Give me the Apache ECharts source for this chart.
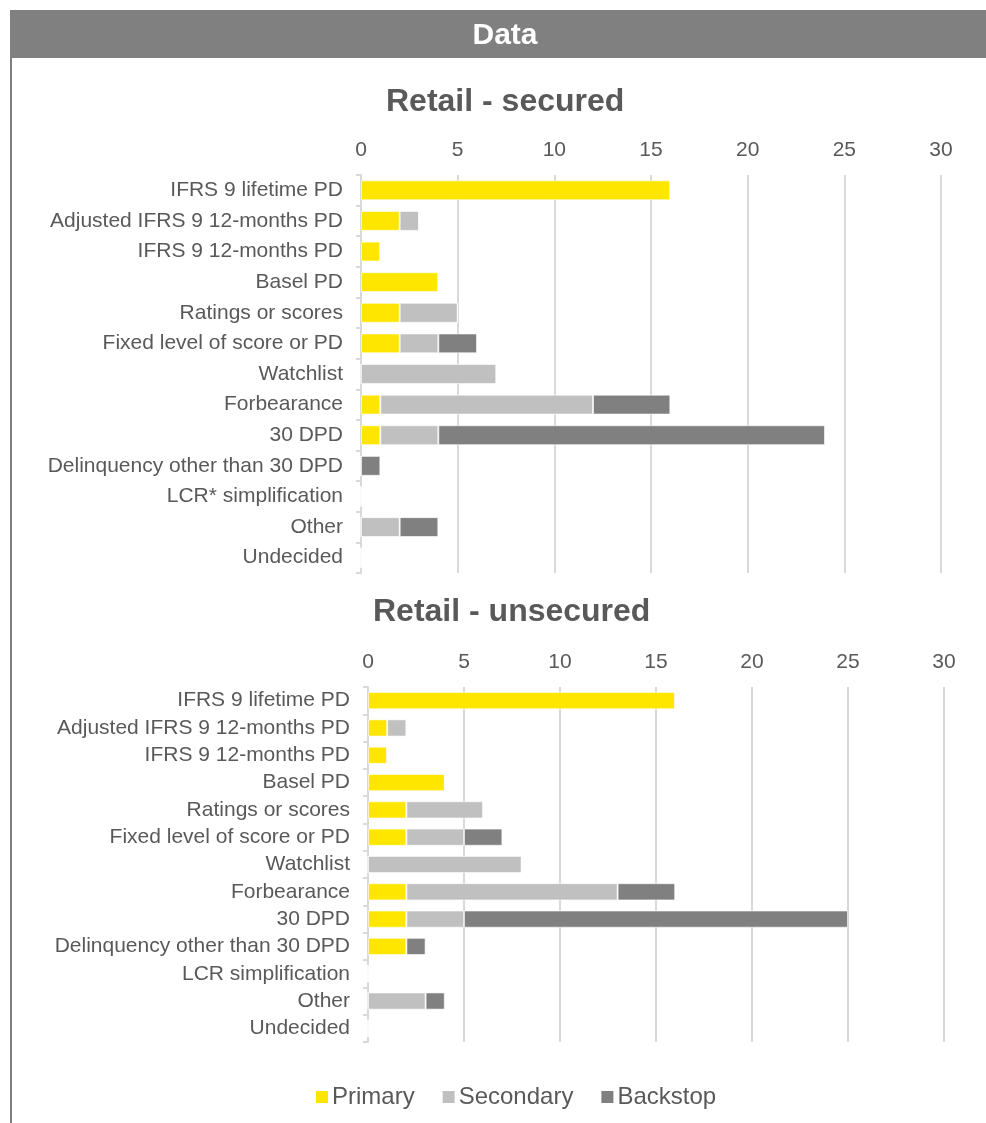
<!DOCTYPE html>
<html>
<head>
<meta charset="utf-8">
<style>
  html, body { margin: 0; padding: 0; background: #fff; }
  #chart { width: 986px; height: 1123px; }
</style>
<script src="https://cdn.jsdelivr.net/npm/echarts@6/dist/echarts.min.js"></script>
</head>
<body>
<div id="chart"></div>
<script>
// Category lists (top to bottom)
const securedCategories = [
  'IFRS 9 lifetime PD', 'Adjusted IFRS 9 12-months PD', 'IFRS 9 12-months PD', 'Basel PD',
  'Ratings or scores', 'Fixed level of score or PD', 'Watchlist', 'Forbearance', '30 DPD',
  'Delinquency other than 30 DPD', 'LCR* simplification', 'Other', 'Undecided'
];
const unsecuredCategories = [
  'IFRS 9 lifetime PD', 'Adjusted IFRS 9 12-months PD', 'IFRS 9 12-months PD', 'Basel PD',
  'Ratings or scores', 'Fixed level of score or PD', 'Watchlist', 'Forbearance', '30 DPD',
  'Delinquency other than 30 DPD', 'LCR simplification', 'Other', 'Undecided'
];

// Retail - secured
const securedPrimary   = [16, 2, 1, 4, 2, 2, 0, 1, 1, 0, 0, 0, 0];
const securedSecondary = [0, 1, 0, 0, 3, 2, 7, 11, 3, 0, 0, 2, 0];
const securedBackstop  = [0, 0, 0, 0, 0, 2, 0, 4, 20, 1, 0, 2, 0];

// Retail - unsecured
const unsecuredPrimary   = [16, 1, 1, 4, 2, 2, 0, 2, 2, 2, 0, 0, 0];
const unsecuredSecondary = [0, 1, 0, 0, 4, 3, 8, 11, 3, 0, 0, 3, 0];
const unsecuredBackstop  = [0, 0, 0, 0, 0, 2, 0, 3, 20, 1, 0, 1, 0];

const seriesNames = ['Primary', 'Secondary', 'Backstop'];
const seriesColors = ['#FFE600', '#C0C0C0', '#808080'];

const FONT = '"Liberation Sans", Arial, sans-serif';
const TEXT = '#595959';
const GRID_LINE = '#D9D9D9';

function valueAxis(gridIndex) {
  return {
    type: 'value', gridIndex: gridIndex, position: 'top',
    min: 0, max: 30, interval: 5,
    axisLine: { show: false }, axisTick: { show: false },
    axisLabel: { color: TEXT, fontFamily: FONT, fontSize: 21, margin: 14 },
    splitLine: { show: true, lineStyle: { color: GRID_LINE, width: 2 } }
  };
}
function categoryAxis(gridIndex, cats) {
  return {
    type: 'category', gridIndex: gridIndex, data: cats, inverse: true,
    axisLine: { show: true, lineStyle: { color: GRID_LINE, width: 2 } },
    axisTick: { show: true, length: 5, lineStyle: { color: GRID_LINE, width: 2 } },
    axisLabel: { color: TEXT, fontFamily: FONT, fontSize: 21, margin: 18 }
  };
}
function barSeries(gridIndex, values, gap) {
  return values.map((vals, i) => ({
    name: seriesNames[i], type: 'bar', stack: 'g' + gridIndex,
    xAxisIndex: gridIndex, yAxisIndex: gridIndex,
    barCategoryGap: gap,
    itemStyle: { color: seriesColors[i], borderColor: 'rgba(255,255,255,0.6)', borderWidth: 1 },
    emphasis: { disabled: true },
    data: vals
  }));
}

const chart = echarts.init(document.getElementById('chart'), null, { renderer: 'canvas' });
chart.setOption({
  animation: false,
  backgroundColor: '#fff',
  graphic: [
    { type: 'rect', shape: { x: 10, y: 10, width: 976, height: 48 }, style: { fill: '#808080' } },
    { type: 'line', shape: { x1: 11, y1: 10, x2: 11, y2: 1123 }, style: { stroke: '#808080', lineWidth: 2 } },
    { type: 'text', x: 505, y: 36, style: { text: 'Data', fill: '#fff', font: 'bold 30px ' + FONT, textAlign: 'center', textVerticalAlign: 'middle' } }
  ],
  title: [
    { text: 'Retail - secured', left: 386, top: 86, padding: 0, textStyle: { color: TEXT, fontFamily: FONT, fontSize: 32, fontWeight: 'bold' } },
    { text: 'Retail - unsecured', left: 373, top: 596, padding: 0, textStyle: { color: TEXT, fontFamily: FONT, fontSize: 32, fontWeight: 'bold' } }
  ],
  legend: {
    data: seriesNames, left: 311, top: 1080,
    itemWidth: 12, itemHeight: 12, itemGap: 28,
    icon: 'rect',
    itemStyle: { borderWidth: 0 },
    textStyle: { color: TEXT, fontFamily: FONT, fontSize: 24, padding: [0, 0, 0, -1] }
  },
  grid: [
    { left: 361, right: 45, top: 175, height: 398, containLabel: false },
    { left: 368, right: 42, top: 687, height: 355, containLabel: false }
  ],
  xAxis: [valueAxis(0), valueAxis(1)],
  yAxis: [categoryAxis(0, securedCategories), categoryAxis(1, unsecuredCategories)],
  series: [
    ...barSeries(0, [securedPrimary, securedSecondary, securedBackstop], '35%'),
    ...barSeries(1, [unsecuredPrimary, unsecuredSecondary, unsecuredBackstop], '37%')
  ]
});
</script>
</body>
</html>
